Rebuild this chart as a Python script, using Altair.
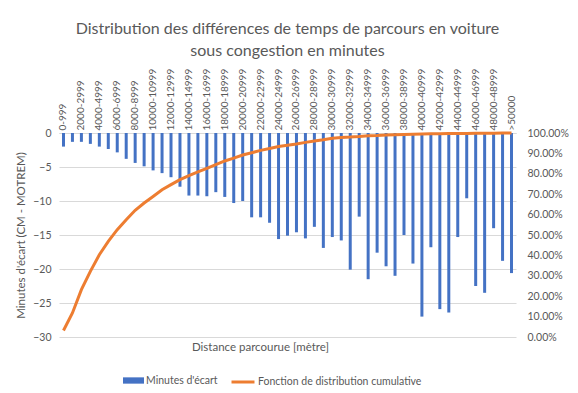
import altair as alt
import pandas as pd

categories = [
    "0-999", "1000-1999", "2000-2999", "3000-3999", "4000-4999", "5000-5999",
    "6000-6999", "7000-7999", "8000-8999", "9000-9999", "10000-10999",
    "11000-11999", "12000-12999", "13000-13999", "14000-14999", "15000-15999",
    "16000-16999", "17000-17999", "18000-18999", "19000-19999", "20000-20999",
    "21000-21999", "22000-22999", "23000-23999", "24000-24999", "25000-25999",
    "26000-26999", "27000-27999", "28000-28999", "29000-29999", "30000-30999",
    "31000-31999", "32000-32999", "33000-33999", "34000-34999", "35000-35999",
    "36000-36999", "37000-37999", "38000-38999", "39000-39999", "40000-40999",
    "41000-41999", "42000-42999", "43000-43999", "44000-44999", "45000-45999",
    "46000-46999", "47000-47999", "48000-48999", "49000-49999", ">50000",
]

minutes = [
    -2.0, -1.3, -1.3, -1.6, -2.0, -2.35, -2.85, -3.8, -4.4, -4.9,
    -5.5, -5.9, -6.5, -7.9, -9.2, -9.2, -9.3, -8.7, -9.4, -10.3,
    -10.0, -12.4, -12.4, -13.2, -15.6, -15.1, -14.6, -15.5, -13.8, -16.9,
    -15.3, -15.8, -20.1, -12.3, -21.5, -17.6, -19.6, -21.0, -15.0, -19.2,
    -27.0, -16.8, -25.9, -26.4, -15.3, -9.6, -22.5, -23.5, -14.0, -18.8, -20.6,
]

cumulative = [
    0.032, 0.118, 0.232, 0.322, 0.403, 0.469, 0.526, 0.575, 0.621, 0.657,
    0.689, 0.722, 0.747, 0.771, 0.791, 0.809, 0.827, 0.845, 0.863, 0.877,
    0.892, 0.903, 0.915, 0.924, 0.934, 0.940, 0.946, 0.954, 0.961, 0.967,
    0.974, 0.978, 0.980, 0.983, 0.987, 0.988, 0.990, 0.992, 0.993, 0.994,
    0.995, 0.996, 0.996, 0.997, 0.998, 0.998, 0.999, 0.999, 0.999, 1.0, 1.0,
]

left_ticks = [0, -5, -10, -15, -20, -25, -30]
right_ticks = [0, 0.1, 0.2, 0.3, 0.4, 0.5, 0.6, 0.7, 0.8, 0.9, 1.0]

bar_name = "Minutes d'écart"
line_name = "Fonction de distribution cumulative"

df = pd.DataFrame({"cat": categories, "minutes": minutes, "cdf": cumulative})

TXT = "#595959"
FONT = "Lato"

xscale = alt.Scale(paddingInner=0, paddingOuter=0)

bars = alt.Chart(df).transform_calculate(series=f'"{bar_name}"').mark_bar(size=3).encode(
    x=alt.X("cat:N", sort=categories, scale=xscale,
            axis=alt.Axis(orient="top", values=categories[::2], labelAngle=-90,
                          title=None, ticks=False, domain=True, domainColor="#D9D9D9",
                          labelPadding=3, labelFontSize=10, labelColor=TXT, grid=False)),
    y=alt.Y("minutes:Q", scale=alt.Scale(domain=[-30, 0], nice=False, zero=False),
            axis=alt.Axis(values=left_ticks, grid=True, gridColor="#D9D9D9", ticks=False,
                          domain=False, labelColor=TXT, labelFontSize=10.5, labelPadding=8,
                          title="Minutes d'écart (CM - MOTREM)", titleColor=TXT,
                          titleFontSize=11.5, titleFontWeight="normal", titlePadding=6)),
    color=alt.Color("series:N", scale=alt.Scale(domain=[bar_name], range=["#4472C4"]),
                    legend=alt.Legend(title=None, orient="none", legendX=64, legendY=237,
                                      direction="horizontal", padding=0,
                                      symbolType="M-1,-0.3H1V0.3H-1Z", symbolSize=441,
                                      symbolOpacity=1, symbolStrokeWidth=0, labelLimit=0,
                                      labelOffset=2, labelFontSize=10.5, labelColor=TXT)),
)

line = alt.Chart(df).transform_calculate(series=f'"{line_name}"').mark_line(strokeWidth=3).encode(
    x=alt.X("cat:N", sort=categories, scale=xscale,
            axis=alt.Axis(orient="bottom", labels=False, ticks=False, domain=False, grid=False,
                          title="Distance parcourue [mètre]", titleColor=TXT, titleFontSize=11.5,
                          titleFontWeight="normal", titleX=201, titleY=10,
                          titleBaseline="middle")),
    y=alt.Y("cdf:Q", scale=alt.Scale(domain=[0, 1], nice=False),
            axis=alt.Axis(orient="right", values=right_ticks, format=".2%", grid=False,
                          ticks=False, domain=False, labelColor=TXT, labelFontSize=10.5,
                          labelPadding=11, title=None)),
    stroke=alt.Stroke("series:N", scale=alt.Scale(domain=[line_name], range=["#ED7D31"]),
                      legend=alt.Legend(title=None, orient="none", legendX=171, legendY=236,
                                        direction="horizontal", padding=0,
                                        symbolType="stroke", symbolSize=529,
                                        symbolStrokeWidth=3, labelOffset=2, labelLimit=0,
                                        labelFontSize=10.5, labelColor=TXT)),
)

chart = alt.layer(bars, line).resolve_scale(
    y="independent", color="independent", stroke="independent"
).resolve_axis(x="independent").properties(
    width=457, height=204,
    padding={"left": 59, "top": 133, "right": 62, "bottom": 56},
    autosize=alt.AutoSizeParams(type="none"),
    title=alt.TitleParams(
        ["Distribution des différences de temps de parcours en voiture",
         "sous congestion en minutes"],
        fontSize=16, fontWeight="normal", color=TXT, font=FONT, lineHeight=22,
        anchor="middle", offset=9,
    ),
).configure(font=FONT).configure_view(stroke=None)

chart.save("out.html", embed_options={"renderer": "svg", "actions": False})
